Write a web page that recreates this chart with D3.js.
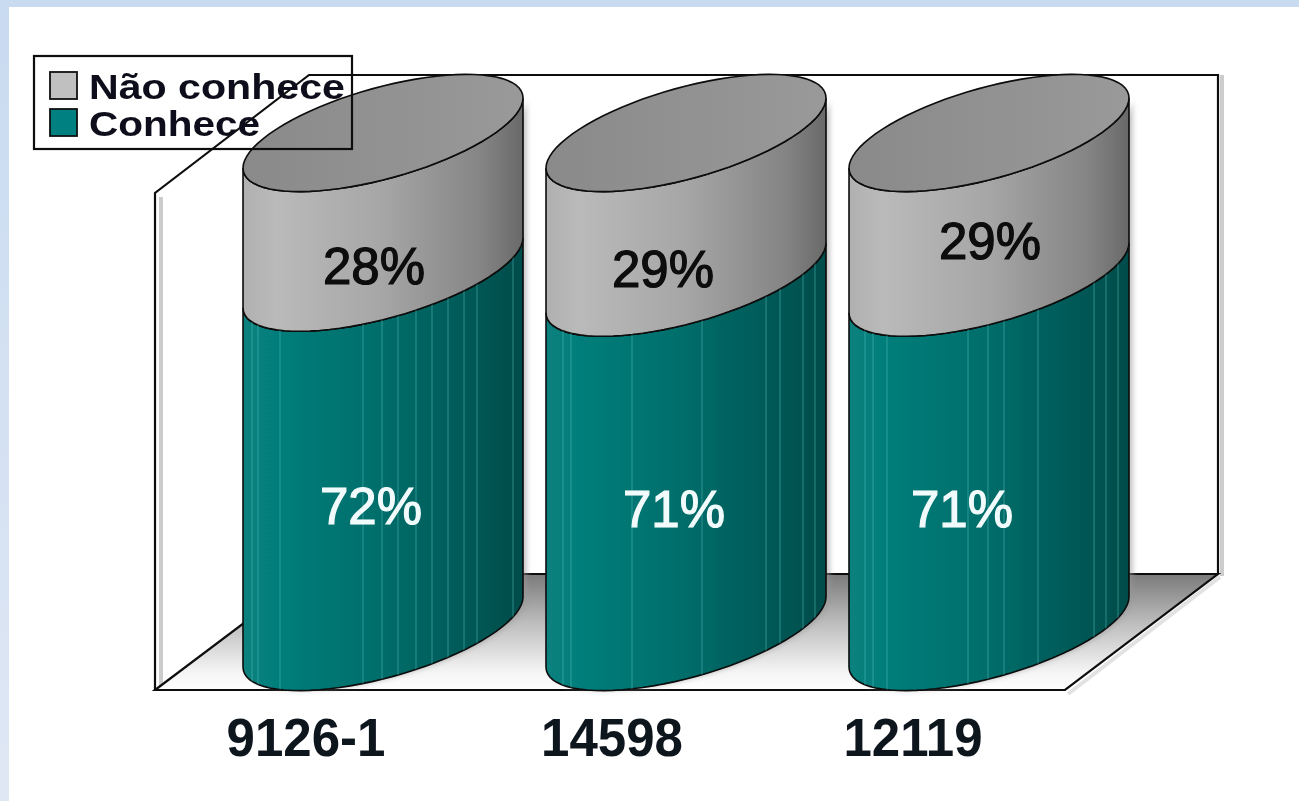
<!DOCTYPE html>
<html>
<head>
<meta charset="utf-8">
<script src="https://cdn.jsdelivr.net/npm/d3@7"></script>
<style>
    html, body { margin: 0; padding: 0; background: #fff; overflow: hidden; }
    text { font-family: "Liberation Sans", Arial, sans-serif; }
</style>
</head>
<body>
<div id="chart"></div>
<script>
const categories = ['9126-1', '14598', '12119'];
const conhece = [72, 71, 71];
const naoConhece = [28, 29, 29];
const seriesNames = ['Conhece', 'Não conhece'];
const legendNames = ['Não conhece', 'Conhece'];

const width = 1299;
const height = 801;

// frame of the 3d box
const box = { left: 155, wallLeft: 309, right: 1218, frontRight: 1065, top: 75, leftTop: 193, back: 574, front: 690 };

// cylinder shape: half width, tilt of the ellipse, half height of the ellipse
const rx = 140;
const tilt = 35;
const ry = 47;

// light facet lines seen on the teal part, distance from the cylinder centre
const facets = [
    [-131, -125, -103, -20, -1, 15, 33, 49, 65, 81, 94, 130],
    [-123, -115, -54, 16, 80, 94, 117, 129],
    [-124, -116, -102, -21, -1, 15, 49, 105, 117, 129]
];

// where the labels sit compared with the middle of their segment
const labelNudge = {
    'Conhece': [[-12, 53], [-12, 53], [-27, 53]],
    'Não conhece': [[-9, 62], [-23, 63], [1, 35]]
};

const x = d3.scalePoint().domain(categories).range([383, 989]);
const y = d3.scaleLinear().domain([0, 100]).range([632, 133]);

const rows = categories.map((c, i) => ({ category: c, index: i, 'Conhece': conhece[i], 'Não conhece': naoConhece[i] }));
const stacked = d3.stack().keys(seriesNames)(rows);

const svg = d3.select('#chart').append('svg')
    .attr('width', width)
    .attr('height', height)
    .style('display', 'block');

const defs = svg.append('defs');

function addGradient(id, stops, x2, y2) {
    const g = defs.append('linearGradient').attr('id', id)
        .attr('x1', 0).attr('y1', 0).attr('x2', x2).attr('y2', y2);
    stops.forEach(s => g.append('stop').attr('offset', s[0]).attr('stop-color', s[1]));
}

addGradient('tealSide', [[0, '#07817e'], [0.12, '#067e7b'], [0.5, '#006d6a'], [0.85, '#005654'], [1, '#004c4a']], 1, 0);
addGradient('greySide', [[0, '#b0b0b0'], [0.12, '#bababa'], [0.5, '#a6a6a6'], [0.85, '#858585'], [1, '#696969']], 1, 0);
addGradient('topFace', [[0, '#8a8a8a'], [1, '#999999']], 1, 0);
addGradient('floorFill', [[0, '#7a7a7a'], [0.42, '#bdbdbd'], [0.85, '#f5f5f5'], [1, '#ffffff']], 0, 1);
addGradient('pageBand', [[0, '#c9dbf1'], [1, '#dfe7f4']], 0, 1);

defs.append('filter').attr('id', 'soft').attr('x', '-5%').attr('y', '-5%').attr('width', '110%').attr('height', '110%')
    .append('feGaussianBlur').attr('stdDeviation', 0.7);
defs.append('filter').attr('id', 'shadow').attr('x', '-10%').attr('y', '-10%').attr('width', '120%').attr('height', '120%')
    .append('feGaussianBlur').attr('stdDeviation', 2.5);

// page background
svg.append('rect').attr('width', width).attr('height', 7).attr('fill', '#c9dbf1');
svg.append('rect').attr('y', 7).attr('width', 9).attr('height', height - 7).attr('fill', 'url(#pageBand)');

const chart = svg.append('g').attr('filter', 'url(#soft)');

// box shadow
chart.append('path')
    .attr('d', `M${box.left + 6},${box.leftTop + 4}V${box.front - 4}M${box.right + 4},${box.top}V${box.back + 2}`)
    .attr('fill', 'none')
    .attr('stroke', '#cccccc')
    .attr('stroke-width', 4);
chart.append('path')
    .attr('d', `M${box.right + 2},${box.back + 3}L${box.frontRight + 3},${box.front + 4}`)
    .attr('fill', 'none')
    .attr('stroke', '#e2e2e2')
    .attr('stroke-width', 4);

// floor
chart.append('path')
    .attr('d', `M${box.left},${box.front}L${box.wallLeft},${box.back}H${box.right}L${box.frontRight},${box.front}Z`)
    .attr('fill', 'url(#floorFill)')
    .attr('stroke', '#111')
    .attr('stroke-width', 2.2);

// walls
chart.append('path')
    .attr('d', `M${box.left},${box.front}V${box.leftTop}L${box.wallLeft},${box.top}H${box.right}V${box.back}`)
    .attr('fill', 'none')
    .attr('stroke', '#111')
    .attr('stroke-width', 2.2);

// point on a tilted ellipse
function ellipsePoint(cx, cy, t) {
    return [cx + rx * Math.cos(t), cy - tilt * Math.cos(t) + ry * Math.sin(t)];
}

const frontAngles = d3.range(0, 41).map(i => Math.PI * i / 40);

function sidePath(cx, cyBottom, cyTop) {
    const line = d3.line();
    const lower = frontAngles.map(t => ellipsePoint(cx, cyBottom, Math.PI - t));
    const upper = frontAngles.map(t => ellipsePoint(cx, cyTop, t));
    return line(lower.concat(upper)) + 'Z';
}

function topPath(cx, cy) {
    const pts = d3.range(0, 80).map(i => ellipsePoint(cx, cy, 2 * Math.PI * i / 80));
    return d3.line()(pts) + 'Z';
}

const fills = { 'Conhece': 'url(#tealSide)', 'Não conhece': 'url(#greySide)' };

// shadow behind each cylinder
chart.selectAll('path.cyl-shadow')
    .data(rows)
    .join('path')
    .attr('class', 'cyl-shadow')
    .attr('d', d => sidePath(x(d.category) + 4, y(0), y(100)))
    .attr('fill', '#999')
    .attr('opacity', 0.55)
    .attr('filter', 'url(#shadow)');

stacked.forEach(layer => {
    const g = chart.append('g').attr('class', 'layer');

    g.selectAll('path')
        .data(layer)
        .join('path')
        .attr('d', d => sidePath(x(d.data.category), y(d[0]), y(d[1])))
        .attr('fill', fills[layer.key])
        .attr('stroke', '#0a0a0a')
        .attr('stroke-width', 1.6);
});

// facet lines, clipped to the teal segment
stacked[0].forEach((d, i) => {
    const cx = x(d.data.category);
    const clipId = 'clip' + i;
    defs.append('clipPath').attr('id', clipId)
        .append('path').attr('d', sidePath(cx, y(d[0]), y(d[1])));
    chart.append('g')
        .attr('clip-path', `url(#${clipId})`)
        .selectAll('line')
        .data(facets[i])
        .join('line')
        .attr('x1', o => cx + o)
        .attr('x2', o => cx + o)
        .attr('y1', y(100))
        .attr('y2', box.front + 5)
        .attr('stroke', '#55c4c0')
        .attr('stroke-opacity', 0.5)
        .attr('stroke-width', 1);
});

// top of the cylinders
chart.selectAll('path.cyl-top')
    .data(rows)
    .join('path')
    .attr('class', 'cyl-top')
    .attr('d', d => topPath(x(d.category), y(100)))
    .attr('fill', 'url(#topFace)')
    .attr('stroke', '#0a0a0a')
    .attr('stroke-width', 1.6);

// value labels
stacked.forEach(layer => {
    chart.selectAll(null)
        .data(layer)
        .join('text')
        .attr('transform', (d, i) => {
            const nudge = labelNudge[layer.key][i];
            const lx = x(d.data.category) + nudge[0];
            const ly = (y(d[0]) + y(d[1])) / 2 + nudge[1];
            return `translate(${lx},${ly + 19}) scale(1,1.03)`;
        })
        .attr('text-anchor', 'middle')
        .attr('font-size', 51)
        .attr('fill', layer.key === 'Conhece' ? '#f2fbfb' : '#0a0a0a')
        .attr('stroke', layer.key === 'Conhece' ? '#f2fbfb' : '#0a0a0a')
        .attr('stroke-width', 1.2)
        .text(d => d[1] - d[0] + '%');
});

// category labels
const labelCentre = [306, 612, 913];
chart.selectAll(null)
    .data(categories)
    .join('text')
    .attr('transform', (d, i) => `translate(${labelCentre[i]},756) scale(1,1.05)`)
    .attr('text-anchor', 'middle')
    .attr('font-size', 51)
    .attr('font-weight', 'bold')
    .attr('fill', '#10141f')
    .text(d => d);

// legend
const legend = chart.append('g');

legend.append('rect')
    .attr('x', 34).attr('y', 56)
    .attr('width', 318).attr('height', 93)
    .attr('fill', 'none')
    .attr('stroke', '#111')
    .attr('stroke-width', 2.2);

const legendColor = d3.scaleOrdinal().domain(legendNames).range(['#c0c0c0', '#008080']);
const legendY = d3.scalePoint().domain(legendNames).range([72, 109]);
const legendWidth = { 'Não conhece': 256, 'Conhece': 171 };

legend.selectAll('rect.swatch')
    .data(legendNames)
    .join('rect')
    .attr('class', 'swatch')
    .attr('x', 50)
    .attr('y', d => legendY(d))
    .attr('width', 27)
    .attr('height', 27)
    .attr('fill', d => legendColor(d))
    .attr('stroke', '#111')
    .attr('stroke-width', 1.8);

legend.selectAll('text')
    .data(legendNames)
    .join('text')
    .attr('x', 89)
    .attr('y', d => legendY(d) + 27)
    .attr('font-size', 35)
    .attr('font-weight', 'bold')
    .attr('fill', '#10101a')
    .attr('textLength', d => legendWidth[d])
    .attr('lengthAdjust', 'spacingAndGlyphs')
    .text(d => d);
</script>
</body>
</html>
